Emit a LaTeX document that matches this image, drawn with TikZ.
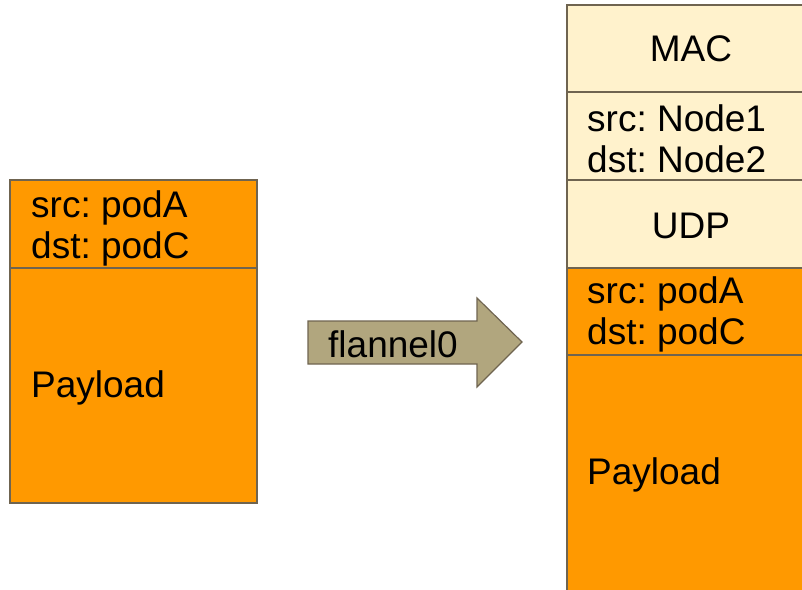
\documentclass[tikz,border=0pt]{standalone}
\usepackage{fontspec}
\setmainfont{Liberation Sans}
\frenchspacing
\definecolor{pkorange}{HTML}{FF9900}
\definecolor{pkcream}{HTML}{FFF2CC}
\definecolor{pkedge}{HTML}{6F6450}
\definecolor{pkkhaki}{HTML}{B1A67E}
\tikzset{
  field/.style={draw=pkedge, line width=1.5pt},
  lbl/.style={font=\fontsize{37}{41}\selectfont, inner sep=0pt, align=left},
}
\begin{document}
\begin{tikzpicture}[x=1pt,y=-1pt]
\useasboundingbox (0,0) rectangle (802,589);
\clip (0,0) rectangle (802,589);
% left packet
\filldraw[field, fill=pkorange] (10,180) rectangle (257,268);
\filldraw[field, fill=pkorange] (10,268) rectangle (257,503);
\node[lbl, anchor=west] (lhdr) at (31,228) {src: podA\\dst: podC};
\node[lbl, anchor=west] (lpay) at (31,388) {Payload};
% arrow
\filldraw[field, fill=pkkhaki, line width=1.2pt, line join=miter]
  (308,321) -- (477,321) -- (477,298) -- (522,342) -- (477,387) -- (477,364) -- (308,364) -- cycle;
\node[lbl, anchor=center] (flan) at (393,344) {flannel0};
% right packet
\filldraw[field, fill=pkcream] (567,5) rectangle (815,92);
\filldraw[field, fill=pkcream] (567,92) rectangle (815,180);
\filldraw[field, fill=pkcream] (567,180) rectangle (815,268);
\filldraw[field, fill=pkorange] (567,268) rectangle (815,355);
\filldraw[field, fill=pkorange] (567,355) rectangle (815,600);
\node[lbl, anchor=center] (mac) at (691,49) {MAC};
\node[lbl, anchor=west] (rnode) at (587,139) {src: Node1\\dst: Node2};
\node[lbl, anchor=center] (udp) at (691,226) {UDP};
\node[lbl, anchor=west] (rhdr) at (587,314) {src: podA\\dst: podC};
\node[lbl, anchor=west] (rpay) at (587,475) {Payload};
\end{tikzpicture}
\end{document}
